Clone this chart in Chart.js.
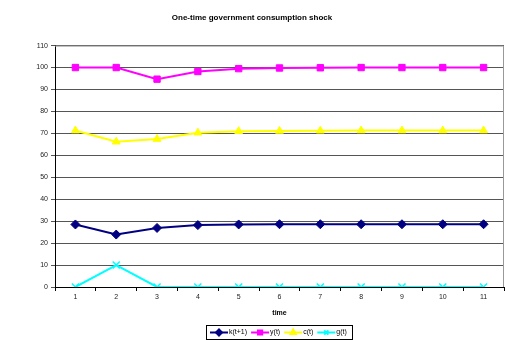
<!DOCTYPE html>
<html>
<head>
<meta charset="utf-8">
<script src="https://cdn.jsdelivr.net/npm/chart.js@4/dist/chart.umd.min.js"></script>
<style>
  html, body { margin: 0; padding: 0; background: #fff; }
  #wrap { width: 505px; height: 340px; }
</style>
</head>
<body>
<div id="wrap"><canvas id="shockChart" width="505" height="340"></canvas></div>
<script>
// données
const timeLabels = ['1', '2', '3', '4', '5', '6', '7', '8', '9', '10', '11'];
const kValues = [28.5, 23.9, 26.9, 28.2, 28.5, 28.6, 28.6, 28.6, 28.6, 28.6, 28.6];
const yValues = [100, 100, 94.7, 98.2, 99.5, 99.8, 99.9, 100, 100, 100, 100];
const cValues = [71.3, 66.2, 67.4, 70.3, 71.0, 71.1, 71.2, 71.3, 71.3, 71.3, 71.3];
const gValues = [0, 10, 0, 0, 0, 0, 0, 0, 0, 0, 0];

// cadre gris + légende encadrée
const frameAndLegend = {
    id: 'frameAndLegend',
    beforeDatasetsDraw(chart) {
        const { ctx, chartArea: a } = chart;
        ctx.save();
        ctx.strokeStyle = '#999';
        ctx.lineWidth = 1;
        ctx.beginPath();
        ctx.moveTo(a.left, a.top + 0.5);
        ctx.lineTo(a.right - 0.5, a.top + 0.5);
        ctx.lineTo(a.right - 0.5, a.bottom);
        ctx.stroke();
        ctx.restore();
    },
    afterDraw(chart) {
        const ctx = chart.ctx;
        const x0 = 206, y0 = 325, w = 146, h = 14;
        ctx.save();
        ctx.strokeStyle = '#000';
        ctx.lineWidth = 1;
        ctx.strokeRect(x0 + 0.5, y0 + 0.5, w, h);
        ctx.font = '7px Arial, "Liberation Sans"';
        ctx.textBaseline = 'middle';
        let x = x0 + 4;
        const cy = y0 + h / 2 + 0.5;
        chart.data.datasets.forEach(ds => {
            ctx.strokeStyle = ds.borderColor;
            ctx.lineWidth = 2;
            ctx.beginPath();
            ctx.moveTo(x, cy);
            ctx.lineTo(x + 18, cy);
            ctx.stroke();
            ctx.fillStyle = ds.borderColor;
            ctx.strokeStyle = ds.borderColor;
            Chart.helpers.drawPoint(ctx, {
                pointStyle: ds.pointStyle,
                radius: 3,
                borderWidth: ds.pointStyle === 'crossRot' ? 1.5 : 1
            }, x + 9, cy);
            ctx.fillStyle = '#000';
            ctx.fillText(ds.label, x + 19, cy);
            x += 19 + ctx.measureText(ds.label).width + 4;
        });
        ctx.restore();
    }
};

function serie(label, data, color, style, radius) {
    return {
        label: label,
        data: data,
        borderColor: color,
        backgroundColor: color,
        pointBackgroundColor: color,
        pointBorderColor: color,
        pointStyle: style,
        pointRadius: radius,
        pointBorderWidth: style === 'crossRot' ? 1.5 : 1,
        borderWidth: 2,
        tension: 0,
        fill: false
    };
}

const ctx = document.getElementById('shockChart').getContext('2d');
const shockChart = new Chart(ctx, {
    type: 'line',
    data: {
        labels: timeLabels,
        datasets: [
            serie('k(t+1)', kValues, '#000080', 'rectRot', 4.5),
            serie('y(t)', yValues, '#FF00FF', 'rect', 4.5),
            serie('c(t)', cValues, '#FFFF00', 'triangle', 4.5),
            serie('g(t)', gValues, '#00FFFF', 'crossRot', 5)
        ]
    },
    options: {
        responsive: false,
        animation: false,
        layout: { autoPadding: false, padding: { left: 0, right: 1, top: 0, bottom: 23 } },
        plugins: {
            legend: { display: false },
            tooltip: { enabled: false },
            title: {
                display: true,
                text: 'One-time government consumption shock',
                color: '#000',
                font: { family: 'Arial, "Liberation Sans"', size: 8, weight: 'bold' },
                padding: { top: 13, bottom: 23 }
            }
        },
        scales: {
            x: {
                offset: true,
                grid: {
                    offset: true,
                    drawOnChartArea: false,
                    drawTicks: true,
                    tickLength: 4,
                    color: '#000'
                },
                border: { color: '#000', width: 1 },
                ticks: {
                    color: '#222',
                    font: { family: 'Arial, "Liberation Sans"', size: 7 },
                    padding: 2,
                    maxRotation: 0
                },
                title: {
                    display: true,
                    text: 'time',
                    color: '#000',
                    font: { family: 'Arial, "Liberation Sans"', size: 7, weight: 'bold' },
                    padding: { top: 6, bottom: 0 }
                },
                afterFit(scale) { scale.height = 30; }
            },
            y: {
                min: 0,
                max: 110,
                grid: {
                    color: '#555',
                    tickLength: 4,
                    drawTicks: true
                },
                border: { color: '#000', width: 1 },
                ticks: {
                    stepSize: 10,
                    color: '#222',
                    font: { family: 'Arial, "Liberation Sans"', size: 7 },
                    padding: 3
                },
                afterFit(scale) { scale.width = 55; }
            }
        }
    },
    plugins: [frameAndLegend]
});
</script>
</body>
</html>
